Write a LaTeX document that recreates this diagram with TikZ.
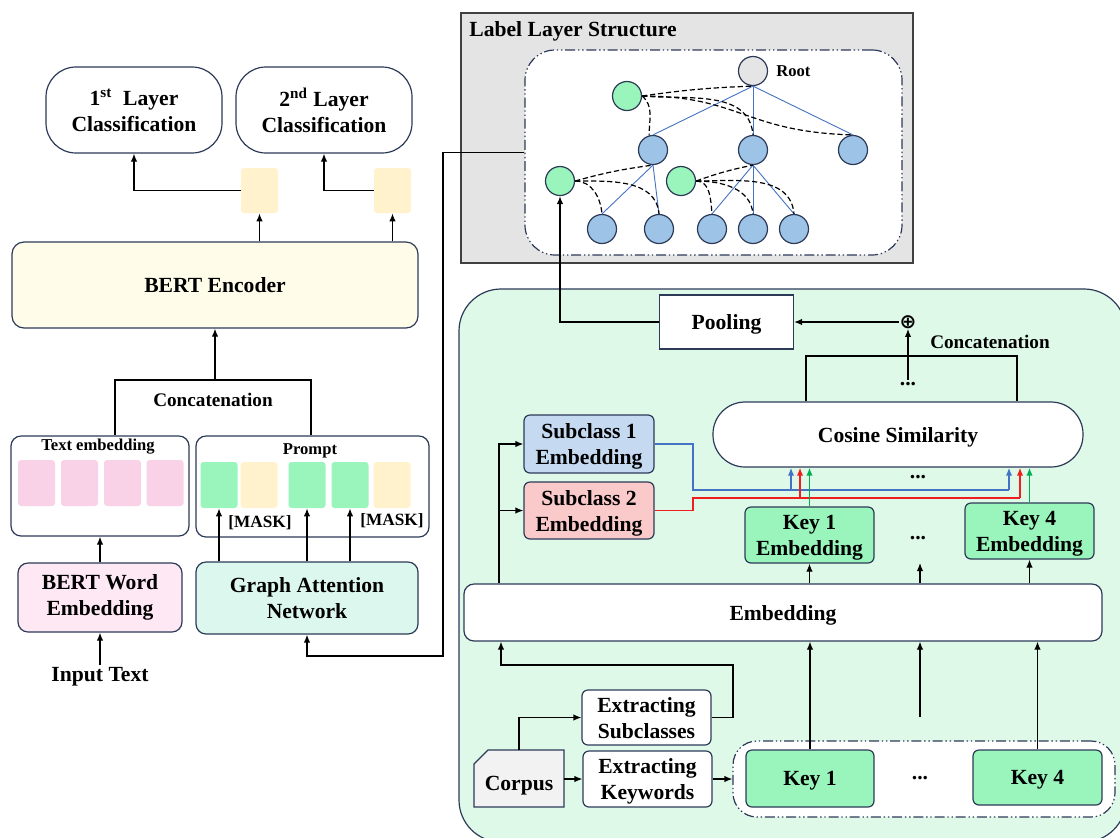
\documentclass[tikz,border=0pt]{standalone}
\usepackage{fontspec}
\setmainfont{Liberation Serif}
\newfontfamily\symfont{DejaVu Sans}
\usetikzlibrary{arrows.meta,positioning,calc}

\definecolor{edgenavy}{RGB}{44,58,88}
\definecolor{nodegreen}{RGB}{153,245,187}
\definecolor{nodeblue}{RGB}{157,195,230}
\definecolor{rootgray}{RGB}{229,229,229}
\definecolor{boxgray}{RGB}{228,228,228}
\definecolor{panelmint}{RGB}{223,249,233}
\definecolor{bertcream}{RGB}{255,253,234}
\definecolor{tokpink}{RGB}{250,210,231}
\definecolor{tokyellow}{RGB}{255,242,204}
\definecolor{wordpink}{RGB}{253,232,243}
\definecolor{gatmint}{RGB}{220,247,238}
\definecolor{subblue}{RGB}{197,217,241}
\definecolor{subred}{RGB}{250,201,201}
\definecolor{linkblue}{RGB}{68,114,196}
\definecolor{linkred}{RGB}{240,30,30}
\definecolor{linkgreen}{RGB}{0,176,80}
\definecolor{corpusgray}{RGB}{242,242,242}

\begin{document}
\begin{tikzpicture}[
  x=0.5pt, y=-0.5pt,
  txt/.style     = {font=\fontsize{10.8}{13}\selectfont\bfseries, align=center, inner sep=1pt},
  small/.style   = {font=\fontsize{8.3}{10}\selectfont\bfseries, inner sep=1pt},
  blk/.style     = {txt, rectangle, draw=edgenavy, line width=0.6pt, rounded corners=3pt},
  blkr/.style    = {blk, text depth=0pt},
  tok/.style     = {rectangle, rounded corners=1.5pt, minimum width=18.5pt, minimum height=23pt, inner sep=0pt},
  tnode/.style   = {circle, draw=edgenavy, line width=0.6pt, fill=nodeblue, minimum size=14.5pt, inner sep=0pt},
  arr/.style     = {-{Latex[length=4pt,width=3.2pt]}, line width=0.6pt},
  ln/.style      = {line width=0.6pt},
  treeln/.style  = {linkblue, line width=0.45pt},
  hint/.style    = {dash pattern=on 2.6pt off 1.4pt, line width=0.6pt},
  dashdot/.style = {draw=edgenavy, line width=0.6pt, dash pattern=on 5pt off 1.4pt on 0.7pt off 1.4pt on 0.7pt off 1.4pt},
  colarr/.style  = {-{Latex[length=4pt,width=3.2pt]}, line width=0.8pt},
]
\useasboundingbox (0,0) rectangle (1120,837);

% Izquierda: clasificacion por capas
\node[blk, rounded corners=15pt, minimum width=88pt, minimum height=43pt] (cls1) at (134,110) {1\textsuperscript{st}~ Layer\\Classification};
\node[blk, rounded corners=15pt, minimum width=88pt, minimum height=43pt] (cls2) at (324,110) {2\textsuperscript{nd} Layer\\Classification};
\node[tok, fill=tokyellow, minimum height=22.5pt] (y1) at (259.5,190.5) {};
\node[tok, fill=tokyellow, minimum height=22.5pt] (y2) at (392.5,190.5) {};
\node[blk, fill=bertcream, rounded corners=6pt, minimum width=203pt, minimum height=43pt] (bert) at (215,285) {BERT Encoder};

\draw[arr] (y1.west) -| (cls1.south);
\draw[arr] (y2.west) -| (cls2.south);
\draw[arr] (y1.south |- bert.north) -- (y1.south);
\draw[arr] (y2.south |- bert.north) -- (y2.south);

% Entrada: texto + prompt
\node[txt, font=\fontsize{9.6}{11}\selectfont\bfseries] (catl) at (213,400) {Concatenation};
\node[blk, rounded corners=5pt, minimum width=89pt, minimum height=50pt] (temb) at (100,486) {};
\node[small] (tembt) at (98,447) {Text embedding};
\foreach \x [count=\i] in {36.5,79.5,122.5,165}
  \node[tok, fill=tokpink] (t\i) at (\x,483) {};
\node[blk, rounded corners=5pt, minimum width=116.5pt, minimum height=50.5pt] (prompt) at (312.5,486.5) {};
\node[small] (promptt) at (310,451) {Prompt};
\foreach \x/\c [count=\i] in {219/nodegreen,259/tokyellow,307/nodegreen,350/nodegreen,392/tokyellow}
  \node[tok, fill=\c] (p\i) at (\x,485) {};
\node[small, font=\fontsize{8.6}{10}\selectfont\bfseries] (m1) at (260,523) {[MASK]};
\node[small, font=\fontsize{8.6}{10}\selectfont\bfseries] (m2) at (392,521) {[MASK]};

\coordinate (cc) at (215,380);
\draw[ln] ([xshift=7.5pt]temb.north) |- (cc) -| ([xshift=-0.75pt]prompt.north);
\draw[arr] (cc) -- (bert.south);

\node[blk, fill=wordpink, rounded corners=5pt, minimum width=82pt, minimum height=34.5pt] (bwe) at (100,597.5) {BERT Word\\Embedding};
\node[blk, fill=gatmint, rounded corners=5pt, minimum width=111pt, minimum height=36pt] (gat) at (307,598) {Graph Attention\\Network};
\node[txt] (input) at (100,677) {Input Text};

\draw[arr] (bwe.north) -- (temb.south);
\draw[arr] (input.north) -- (bwe.south);
\foreach \i in {1,3,4}
  \draw[arr] (p\i.south |- gat.north) -- (p\i.south);

% Estructura de etiquetas
\node[draw=black!75, fill=boxgray, line width=0.6pt, minimum width=226pt, minimum height=125pt] (lls) at (687,138) {};
\node[txt, anchor=west] (llst) at (467,31) {Label Layer Structure};
\node[dashdot, fill=white, rounded corners=15pt, minimum width=188.5pt, minimum height=102.5pt] (tree) at (713.5,152.5) {};

\node[tnode, fill=rootgray] (root) at (753,71) {};
\node[small, anchor=west] (rootl) at (774,71) {Root};
\node[tnode, fill=nodegreen] (gA) at (627,96) {};
\node[tnode] (b1) at (653,150) {};
\node[tnode] (b2) at (753,150) {};
\node[tnode] (b3) at (853,150) {};
\node[tnode, fill=nodegreen] (gC1) at (560,181) {};
\node[tnode, fill=nodegreen] (gC2) at (681,181) {};
\foreach \x [count=\i] in {602,659,712,753,794}
  \node[tnode] (l\i) at (\x,229) {};

\foreach \n in {b1,b2,b3}
  \draw[treeln] (root.south) -- (\n.north);
\foreach \n in {l1,l2}
  \draw[treeln] (b1.south) -- (\n.north);
\foreach \n in {l3,l4,l5}
  \draw[treeln] (b2.south) -- (\n.north);

\draw[hint] (gA.east) to[bend left=3] (root.south);
\draw[hint] (gA.east) to[out=-40,in=90] (b1.105);
\draw[hint] (gA.east) to[out=-5,in=95] (b2.north);
\draw[hint] (gA.east) .. controls (740,96) and (745,132) .. (b3.north);
\draw[hint] (gC1.east) to[bend left=4] (b1.south);
\draw[hint] (gC1.east) to[out=0,in=95] (l1.north);
\draw[hint] (gC1.east) to[out=0,in=95] (l2.north);
\draw[hint] (gC2.east) to[bend left=4] (b2.south);
\foreach \n in {l3,l4,l5}
  \draw[hint] (gC2.east) to[out=0,in=95] (\n.north);

% Panel derecho
\draw[fill=panelmint, draw=edgenavy, line width=0.6pt, rounded corners=21pt] (459,289) rectangle (1126,842);

\node[blkr, rounded corners=0pt, fill=white, minimum width=67pt, minimum height=27pt] (pool) at (726.5,322) {Pooling};
\node[inner sep=0pt, font=\symfont\bfseries\fontsize{10}{10}\selectfont] (plus) at (908,322) {⊕};
\node[txt, font=\fontsize{9.6}{11}\selectfont\bfseries] (catr) at (990,342) {Concatenation};
\node[txt] (dtop) at (908,384) {...};
\node[blkr, fill=white, rounded corners=16pt, minimum width=185pt, minimum height=32.5pt] (cos) at (898,434.5) {Cosine Similarity};
\node[txt] (dcos) at (918,477) {...};

\draw[arr] (plus.west) -- (pool.east);
\draw[arr] (dtop.north) -- (plus.south);
\coordinate (cl) at (806,356);
\coordinate (cr) at (1017,356);
\draw[ln] (cl |- cos.north) -- (cl) -- (cr) -- (cr |- cos.north);

\node[blkr, fill=subblue, minimum width=65pt, minimum height=29pt] (sub1) at (589,444) {Subclass 1\\Embedding};
\node[blkr, fill=subred, minimum width=65pt, minimum height=28.5pt] (sub2) at (589,510.5) {Subclass 2\\Embedding};
\node[blkr, fill=nodegreen, minimum width=64.5pt, minimum height=28pt] (key1e) at (809.5,535) {Key 1\\Embedding};
\node[blkr, fill=nodegreen, minimum width=64.5pt, minimum height=28pt] (key4e) at (1029.5,531) {Key 4\\Embedding};
\node[txt] (dkey) at (918,538) {...};

% Conexiones de color hacia la similitud
\coordinate (bj) at (693,490);
\coordinate (cb1) at (791,490);
\coordinate (cb2) at (1009,490);
\coordinate (rj) at (693,498);
\coordinate (cr1) at (800,498);
\coordinate (cr2) at (1020,498);
\draw[linkblue, line width=0.8pt] (sub1.east) -| (bj) -- (cb2);
\draw[colarr, linkblue] (cb1) -- (cb1 |- cos.south);
\draw[colarr, linkblue] (cb2) -- (cb2 |- cos.south);
\draw[linkred, line width=0.8pt] (sub2.east) -| (rj) -- (cr2);
\draw[colarr, linkred] (cr1) -- (cr1 |- cos.south);
\draw[colarr, linkred] (cr2) -- (cr2 |- cos.south);
\draw[colarr, linkgreen] (key1e.north) -- (key1e.north |- cos.south);
\draw[colarr, linkgreen] (key4e.north) -- (key4e.north |- cos.south);

\node[blkr, fill=white, rounded corners=5pt, minimum width=319pt, minimum height=28.5pt] (emb) at (783,612.5) {Embedding};

\coordinate (sj) at (499,444);
\draw[arr] (sj |- emb.north) |- (sub1.west);
\draw[arr] (sj |- sub2.west) -- (sub2.west);
\coordinate (dm) at (920,563);
\draw[arr] (key1e.south |- emb.north) -- (key1e.south);
\draw[arr] (dm |- emb.north) -- (dm);
\draw[arr] (key4e.south |- emb.north) -- (key4e.south);

% Corpus y extraccion
\draw[fill=corpusgray, draw=edgenavy, line width=0.6pt] (474,807) -- (564,807) -- (564,750) -- (488,750) -- (474,764) -- cycle;
\node[txt, minimum width=45pt, minimum height=28.5pt, text height=12pt, text depth=0pt] (corpus) at (519,778.5) {Corpus};
\node[blkr, fill=white, minimum width=64.5pt, minimum height=27.5pt] (exs) at (646.5,717.5) {Extracting\\Subclasses};
\node[blkr, fill=white, minimum width=64.5pt, minimum height=28pt] (exk) at (647.5,779) {Extracting\\Keywords};
\node[dashdot, fill=white, rounded corners=12pt, minimum width=191pt, minimum height=38pt] (keys) at (924,779) {};
\node[blkr, fill=nodegreen, minimum width=64pt, minimum height=28.5pt] (key1) at (810,778.5) {Key 1};
\node[blkr, fill=nodegreen, minimum width=64.5pt, minimum height=27.5pt] (key4) at (1037.5,777.5) {Key 4};
\node[txt] (dkeys) at (920,778) {...};

\coordinate (corpr) at (564,779);
\draw[arr] (corpus.north) |- (exs.west);
\draw[arr] (corpr) -- (exk.west);
\draw[arr] (exk.east) -- (keys.west);
\coordinate (sc) at (733,665);
\coordinate (se) at (501,665);
\draw[arr] (exs.east) -| (sc) -- (se) -- (se |- emb.south);
\draw[arr] (key1.north) -- (key1.north |- emb.south);
\coordinate (dk) at (920,717);
\draw[arr] (dk) -- (dk |- emb.south);
\draw[arr] (key4.north) -- (key4.north |- emb.south);

% Enlaces entre bloques
\draw[arr] (pool.west) -| (gC1.south);
\coordinate (bend) at (443,656);
\draw[arr] (tree.west) -| (bend) -| (gat.south);

\end{tikzpicture}
\end{document}
